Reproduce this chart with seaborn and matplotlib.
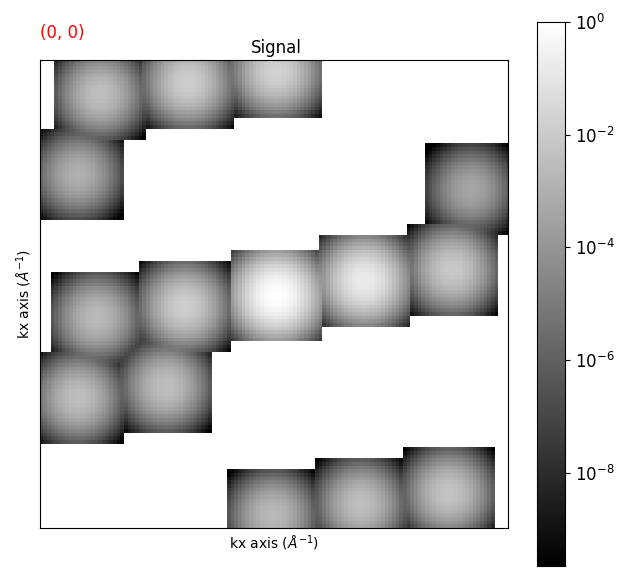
import numpy as np
import matplotlib
matplotlib.use("Agg")
import matplotlib.pyplot as plt
from matplotlib.colors import LogNorm
import seaborn as sns

# scan tiles, positions in detector cells, peak as log10 intensity
tile_left = [4, 28, 52, -2, 105, 3, 27, 52, 76, 100, -2, 22, 51, 75, 99]
tile_top = [-3, -6, -9, 19, 23, 58, 55, 52, 48, 45, 80, 77, 112, 109, 106]
tile_peak = [-2.46, -1.89, -1.70, -3.03, -3.40, -2.65, -1.89, 0.0, -0.76,
             -2.08, -2.46, -2.46, -2.65, -2.46, -2.27]

# log10 drop across one tile, read along a row through the centre
tile_profile = [-3.7, -3.12, -2.58, -2.09, -1.65, -1.26, -0.93, -0.64, -0.41,
                -0.23, -0.10, -0.03, 0.0, -0.03, -0.10, -0.23, -0.41, -0.64,
                -0.93, -1.26, -1.65, -2.09, -2.58, -3.12, -3.7]

cbar_ticks = [1e0, 1e-2, 1e-4, 1e-6, 1e-8]

grid_size = 130
vmin = 2.2e-10

signal = np.zeros((grid_size, grid_size))
profile = np.array(tile_profile)
for left, top, peak in zip(tile_left, tile_top, tile_peak):
    tile = 10 ** (peak + np.add.outer(profile, profile))
    for i in range(len(profile)):
        for j in range(len(profile)):
            r, c = top + i, left + j
            if 0 <= r < grid_size and 0 <= c < grid_size:
                signal[r, c] += tile[i, j]
signal[signal == 0] = np.nan

fig = plt.figure(figsize=(6.4, 5.81), dpi=100)
ax = fig.add_axes([40 / 640, 1 - 528 / 581, 468 / 640, 468 / 581])
cax = fig.add_axes([537 / 640, 1 - 566 / 581, 28 / 640, 544 / 581])

sns.heatmap(signal, ax=ax, cbar_ax=cax, cmap="gray",
            norm=LogNorm(vmin=vmin, vmax=1),
            xticklabels=False, yticklabels=False)

# the image window does not line up exactly with the cell grid
ax.set_xlim(0.1, 127.6)
ax.set_ylim(128.0, 0.25)

for spine in ax.spines.values():
    spine.set_visible(True)
    spine.set_color("black")
    spine.set_linewidth(0.8)

ax.collections[0].colorbar.set_ticks(cbar_ticks)
cax.tick_params(labelsize=12)
for spine in cax.spines.values():
    spine.set_visible(True)

ax.set_title("Signal", fontsize=12, x=0.505, pad=5)
ax.set_xlabel(r"kx axis ($\AA^{-1}$)", fontsize=10)
ax.set_ylabel(r"kx axis ($\AA^{-1}$)", fontsize=10)
ax.text(0, 1.048, "(0, 0)", color="red", fontsize=12, transform=ax.transAxes)

fig.savefig("out.png", dpi=100)
